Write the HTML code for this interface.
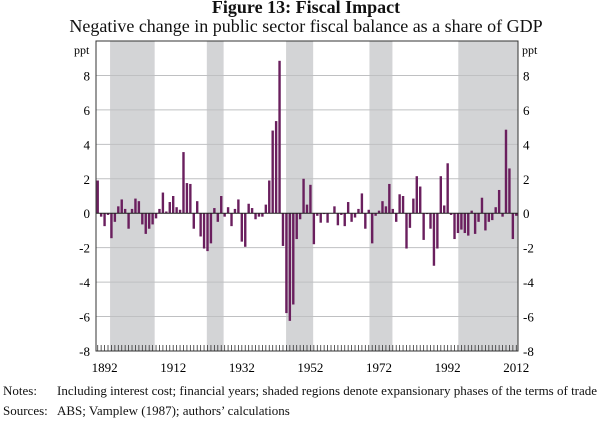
<!DOCTYPE html>
<html><head><meta charset="utf-8">
<style>
body{margin:0;background:#fff;width:600px;height:423px;overflow:hidden;font-family:"Liberation Serif",serif;color:#111}
#t{position:absolute;left:0;width:612px;text-align:center;top:-3px;font-weight:bold;font-size:18px}
#s{position:absolute;left:0;width:612px;text-align:center;top:16px;font-size:18px}
.n{position:absolute;font-size:13px;white-space:nowrap}
</style></head><body>
<div id="t">Figure 13: Fiscal Impact</div>
<div id="s">Negative change in public sector fiscal balance as a share of GDP</div>
<svg id="c" width="600" height="423" style="position:absolute;left:0;top:0"></svg>
<div class="n" style="left:3px;top:383px">Notes:</div>
<div class="n" style="left:57px;top:383px">Including interest cost; financial years; shaded regions denote expansionary phases of the terms of trade</div>
<div class="n" style="left:3px;top:403px">Sources:</div>
<div class="n" style="left:57px;top:403px">ABS; Vamplew (1987); authors’ calculations</div>
<script>
const firstYear = 1890;
const values = [1.9,-0.2,-0.75,-0.1,-1.45,-0.5,0.4,0.8,0.25,-0.9,0.25,0.85,0.7,-0.65,-1.2,-0.9,-0.65,-0.3,0.25,1.2,0.1,0.65,1.0,0.35,0.2,3.55,1.75,1.7,-0.9,0.7,-1.35,-2.05,-2.2,-1.75,0.3,-0.5,1.0,-0.2,0.35,-0.75,0.25,0.8,-1.65,-1.95,0.55,0.3,-0.35,-0.2,-0.2,0.5,1.9,4.8,5.35,8.85,-1.9,-5.8,-6.25,-5.3,-1.5,-0.35,2.0,0.5,1.65,-1.8,-0.15,-0.55,-0.05,-0.55,0,0.4,-0.7,-0.1,-0.75,0.65,-0.5,-0.25,0.25,1.15,-0.9,0.2,-1.75,-0.15,0.15,0.7,0.4,1.7,0.25,-0.5,1.1,1.0,-2.05,-0.85,0.85,2.15,1.55,-1.55,-0.05,-0.9,-3.05,-2.05,2.15,0.45,2.9,-0.1,-1.5,-1.15,-0.95,-1.15,-1.3,0.15,-1.2,-0.5,0.9,-1.0,-0.5,-0.4,0.35,1.35,-0.2,4.85,2.6,-1.5,-0.15];
const shadeStarts = [1893.6,1921.8,1944.9,1969.2,1995.1];
const shadeEnds = [1906.6,1926.7,1952.8,1975.9,2013.5];
const yTicks = [-8,-6,-4,-2,0,2,4,6,8];
const xLabels = [1892,1912,1932,1952,1972,1992,2012];

const L=96,R=518,T=41,B=351;
const x0=firstYear-0.5, x1=firstYear+values.length-0.5;
function xs(y){return L+(y-x0)/(x1-x0)*(R-L);}
function ys(v){return T+(10-v)/18*(B-T);}
const svg=document.getElementById('c');
const NS='http://www.w3.org/2000/svg';
function mk(tag,a){const e=document.createElementNS(NS,tag);for(const k in a)e.setAttribute(k,a[k]);svg.appendChild(e);return e;}

for(let i=0;i<shadeStarts.length;i++){
  const a=Math.max(L,xs(shadeStarts[i])), b=Math.min(R,xs(shadeEnds[i]));
  const r=mk('rect',{x:a,y:T,width:b-a,height:B-T,fill:'#d3d4d6'});
  
  
}
yTicks.forEach(v=>{
  if(v!==0&&v!==-8){const g=mk('line',{x1:L,x2:R,y1:ys(v),y2:ys(v),stroke:'#bfc0c2','stroke-width':1});
  
  }
  const t1=mk('text',{x:L-6,y:ys(v)+5,'text-anchor':'end','font-size':13,'font-family':'Liberation Serif'});t1.textContent=v;
  
  
  const t2=mk('text',{x:R+5,y:ys(v)+5,'text-anchor':'start','font-size':13,'font-family':'Liberation Serif'});t2.textContent=v;
  
  
});
const u1=mk('text',{x:L-22,y:54,'font-size':12,'font-family':'Liberation Serif'});u1.textContent='ppt';


const u2=mk('text',{x:R+4,y:54,'font-size':12,'font-family':'Liberation Serif'});u2.textContent='ppt';



values.forEach((v,i)=>{
  const cx=xs(firstYear+i), y0=ys(0), yv=ys(v);
  const b=mk('rect',{x:cx-1.2,y:Math.min(y0,yv),width:2.4,height:Math.abs(yv-y0),fill:'#6a1f5e'});
  
  
});
const z=mk('line',{x1:L,x2:R,y1:ys(0),y2:ys(0),stroke:'#222','stroke-width':1});


for(let i=0;i<values.length;i++){
  const tx=xs(firstYear+i);
  const tk=mk('line',{x1:tx,x2:tx,y1:B,y2:B-6,stroke:'#333','stroke-width':0.8});
  
  
}
xLabels.forEach(yr=>{
  const t=mk('text',{x:xs(yr),y:372,'text-anchor':'middle','font-size':13,'font-family':'Liberation Serif'});t.textContent=yr;
  
  
});
const f=mk('rect',{x:L,y:T,width:R-L,height:B-T,fill:'none',stroke:'#333','stroke-width':1});


</script>
</body></html>
